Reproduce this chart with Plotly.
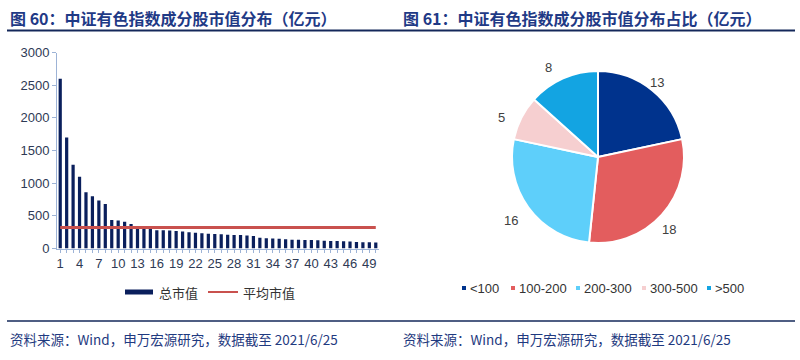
import math
import plotly.graph_objects as go

# ---------------- data ----------------
stock_rank = list(range(1, 51))
market_cap = [2600, 1700, 1280, 1100, 860, 800, 735, 680, 435, 430,
              410, 375, 310, 305, 300, 280, 278, 275, 268, 262,
              248, 240, 232, 225, 222, 220, 210, 208, 205, 198,
              192, 165, 158, 152, 148, 140, 135, 133, 132, 130,
              125, 118, 116, 115, 110, 108, 100, 97, 95, 92]
avg_cap = 320
y_ticks = [0, 500, 1000, 1500, 2000, 2500, 3000]

pie_labels = ["<100", "100-200", "200-300", "300-500", ">500"]
pie_values = [13, 18, 16, 5, 8]
pie_colors = ["#00338D", "#E35D5E", "#5ECFFA", "#F6CFD0", "#13A4E2"]

bar_name = "总市值"
line_name = "平均市值"
title_left = "图 60：中证有色指数成分股市值分布（亿元）"
title_right = "图 61：中证有色指数成分股市值分布占比（亿元）"
source_text = "资料来源：Wind，申万宏源研究，数据截至 2021/6/25"

NAVY = "#1F3A86"
BAR_COLOR = "#0A1F5C"
LINE_COLOR = "#C9514E"
CJK = "Noto Sans CJK SC"
LAT = "Liberation Sans, Arial"
W, H = 800, 360

fig = go.Figure()

fig.add_trace(go.Bar(
    x=stock_rank, y=market_cap, name=bar_name,
    marker=dict(color=BAR_COLOR, line=dict(width=0)),
    xaxis="x", yaxis="y",
))
fig.add_trace(go.Scatter(
    x=stock_rank, y=[avg_cap] * len(stock_rank), name=line_name,
    mode="lines", line=dict(color=LINE_COLOR, width=3),
    xaxis="x", yaxis="y",
))

fig.add_trace(go.Pie(
    labels=pie_labels, values=pie_values, sort=False, direction="clockwise",
    rotation=0, marker=dict(colors=pie_colors, line=dict(color="white", width=2)),
    textinfo="none", hoverinfo="label+value",
    domain=dict(x=[(598 - 86) / W, (598 + 86) / W], y=[(203 - 86) / H, (203 + 86) / H]),
))

# pie value labels outside the slices (positions derived from the values)
total = sum(pie_values)
cum = 0
cx, cy, rl = 598, 157, 108
for v in pie_values:
    mid = (cum + v / 2) / total * 2 * math.pi
    cum += v
    px = cx + rl * math.sin(mid)
    py = cy - rl * math.cos(mid)
    fig.add_annotation(x=px / W, y=1 - py / H, xref="paper", yref="paper",
                       text=str(v), showarrow=False,
                       font=dict(family=LAT, size=13, color="#404040"))

ticktext = [str(r) if (r - 1) % 3 == 0 else "" for r in stock_rank]

fig.update_layout(
    width=W, height=H, margin=dict(l=0, r=0, t=0, b=0, autoexpand=False),
    paper_bgcolor="white", plot_bgcolor="white",
    bargap=0.5, showlegend=False,
    xaxis=dict(domain=[57 / W, 379 / W], range=[0.5, 50.5],
               tickvals=stock_rank, ticktext=ticktext,
               ticks="outside", ticklen=3, tickcolor="#9DB3D6",
               showline=True, linecolor="#9DB3D6", linewidth=1,
               showgrid=False, zeroline=False,
               tickfont=dict(family=LAT, size=13, color="#2E3A55")),
    yaxis=dict(domain=[(H - 248.5) / H, (H - 52.5) / H], range=[0, 3000],
               tickvals=y_ticks, ticks="outside", ticklen=4, tickcolor="#9DB3D6",
               showline=True, linecolor="#9DB3D6", linewidth=1,
               showgrid=False, zeroline=False,
               tickfont=dict(family=LAT, size=13, color="#2E3A55")),
)

# ----- left legend (drawn by hand to match the reference swatches) -----
fig.add_shape(type="rect", xref="paper", yref="paper",
              x0=125 / W, x1=153 / W, y0=1 - 294.5 / H, y1=1 - 289.5 / H,
              fillcolor=BAR_COLOR, line=dict(width=0))
fig.add_annotation(x=157 / W, y=1 - 292 / H, xref="paper", yref="paper",
                   xanchor="left", yanchor="middle", showarrow=False, text=bar_name,
                   font=dict(family=CJK, size=13, color="#333333"))
fig.add_shape(type="line", xref="paper", yref="paper",
              x0=208 / W, x1=238 / W, y0=1 - 292 / H, y1=1 - 292 / H,
              line=dict(color=LINE_COLOR, width=2))
fig.add_annotation(x=241 / W, y=1 - 292 / H, xref="paper", yref="paper",
                   xanchor="left", yanchor="middle", showarrow=False, text=line_name,
                   font=dict(family=CJK, size=13, color="#333333"))

# ----- right legend -----
legend_x = [462, 511, 576, 642, 707]
for lx, lab, col in zip(legend_x, pie_labels, pie_colors):
    fig.add_shape(type="rect", xref="paper", yref="paper",
                  x0=lx / W, x1=(lx + 4) / W, y0=1 - 290 / H, y1=1 - 286 / H,
                  fillcolor=col, line=dict(width=0))
    fig.add_annotation(x=(lx + 6) / W, y=1 - 288 / H, xref="paper", yref="paper",
                       xanchor="left", yanchor="middle", showarrow=False, text=lab,
                       font=dict(family=LAT, size=13, color="#333333"))

# titles, underlines, footers
for x0, x1, title in [(7, 400, title_left), (400, 795, title_right)]:
    fig.add_annotation(x=(x0 + 1) / W, y=1 - 18 / H, xref="paper", yref="paper",
                       xanchor="left", yanchor="middle", showarrow=False,
                       text="<b>" + title + "</b>",
                       font=dict(family=CJK, size=16, color=NAVY))
    fig.add_shape(type="line", xref="paper", yref="paper",
                  x0=x0 / W, x1=x1 / W, y0=1 - 30.5 / H, y1=1 - 30.5 / H,
                  line=dict(color="#14285A", width=2))
    fig.add_shape(type="line", xref="paper", yref="paper",
                  x0=x0 / W, x1=x1 / W, y0=1 - 321 / H, y1=1 - 321 / H,
                  line=dict(color="#14285A", width=1.5))
    fig.add_annotation(x=(x0 + 1) / W, y=1 - 339 / H, xref="paper", yref="paper",
                       xanchor="left", yanchor="middle", showarrow=False,
                       text=source_text,
                       font=dict(family=CJK, size=13.5, color="#1F3A80"))

fig.write_html("out.html", config={"displayModeBar": False},
               post_script="document.body.style.margin='0';document.body.style.overflow='hidden';")
